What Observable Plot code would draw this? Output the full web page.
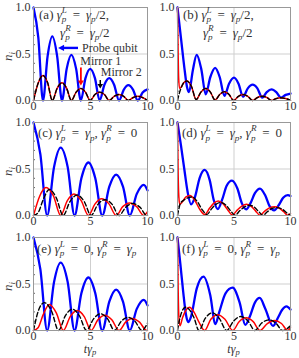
<!DOCTYPE html>
<html><head><meta charset="utf-8">
<script src="https://cdn.jsdelivr.net/npm/d3@7"></script>
<script src="https://cdn.jsdelivr.net/npm/@observablehq/plot@0.6"></script>
<style>
html,body{margin:0;padding:0;background:#fff;}
#wrap{position:relative;width:299px;height:358px;overflow:hidden;background:#fff;}
#wrap svg{position:absolute;}
</style></head><body><div id="wrap"></div>
<script>
// ---- data: [t*gamma_p, n_i] ----
const xTicks = [0, 5, 10];
const yTicks = [0, 0.5, 1];
const yMinor = [0.1, 0.2, 0.3, 0.4, 0.6, 0.7, 0.8, 0.9];

const aBlue = [[0,1],[0.42,0.68],[0.83,0],[1.24,0.48],[1.65,0.69],[2.07,0.48],[2.5,0],[2.91,0.34],[3.32,0.49],[3.74,0.34],[4.15,0],[4.56,0.24],[4.97,0.34],[5.39,0.24],[5.8,0],[6.22,0.17],[6.65,0.24],[7.07,0.17],[7.5,0],[7.91,0.115],[8.32,0.165],[8.74,0.115],[9.15,0],[9.57,0.085],[10,0.12]];
const aRed = [[0,0],[0.42,0.19],[0.83,0.27],[1.24,0.19],[1.65,0],[2.07,0.13],[2.5,0.19],[2.91,0.13],[3.32,0],[3.74,0.09],[4.15,0.13],[4.56,0.09],[4.97,0],[5.39,0.065],[5.8,0.09],[6.22,0.065],[6.65,0],[7.07,0.045],[7.5,0.065],[7.91,0.045],[8.32,0],[8.74,0.032],[9.15,0.045],[9.57,0.032],[10,0]];
const aBlack = [[0,0],[0.42,0.19],[0.83,0.27],[1.24,0.19],[1.65,0],[2.07,0.13],[2.5,0.19],[2.91,0.13],[3.32,0],[3.74,0.09],[4.15,0.13],[4.56,0.09],[4.97,0],[5.39,0.065],[5.8,0.09],[6.22,0.065],[6.65,0],[7.07,0.045],[7.5,0.065],[7.91,0.045],[8.32,0],[8.74,0.032],[9.15,0.045],[9.57,0.032],[10,0]];

const bBlue = [[0,1],[0.3,0.68],[0.6,0.36],[0.85,0.14],[1.02,0.09],[1.35,0.32],[1.7,0.49],[2.1,0.34],[2.5,0.065],[2.9,0.25],[3.33,0.35],[3.74,0.25],[4.15,0.05],[4.56,0.18],[5.0,0.245],[5.4,0.18],[5.8,0.04],[6.22,0.13],[6.65,0.17],[7.07,0.13],[7.5,0.03],[7.9,0.09],[8.32,0.12],[8.74,0.09],[9.15,0.03],[9.57,0.06],[10,0.075]];
const bRed = [[0,1],[0.05,0.55],[0.1,0.25],[0.18,0.13],[0.3,0.14],[0.55,0.19],[0.83,0.21],[1.24,0.15],[1.65,0.01],[2.07,0.09],[2.5,0.13],[2.91,0.09],[3.32,0.005],[3.74,0.065],[4.15,0.095],[4.56,0.065],[4.97,0],[5.39,0.045],[5.8,0.065],[6.22,0.045],[6.65,0],[7.07,0.032],[7.5,0.045],[7.91,0.032],[8.32,0],[8.74,0.021],[9.15,0.03],[9.57,0.021],[10,0.002]];
const bBlack = [[0,0],[0.12,0.06],[0.3,0.13],[0.55,0.19],[0.83,0.21],[1.24,0.15],[1.65,0.01],[2.07,0.09],[2.5,0.13],[2.91,0.09],[3.32,0.005],[3.74,0.065],[4.15,0.095],[4.56,0.065],[4.97,0],[5.39,0.045],[5.8,0.065],[6.22,0.045],[6.65,0],[7.07,0.032],[7.5,0.045],[7.91,0.032],[8.32,0],[8.74,0.021],[9.15,0.03],[9.57,0.021],[10,0.002]];

const cBlue = [[0,1],[0.6,0.66],[1.2,0],[1.8,0.52],[2.38,0.73],[3.0,0.52],[3.6,0],[4.2,0.4],[4.82,0.57],[5.42,0.4],[6.03,0],[6.65,0.31],[7.25,0.44],[7.85,0.31],[8.45,0],[9.05,0.23],[9.68,0.33],[10,0.27]];
const cRed = [[0,0],[0.55,0.21],[1.1,0.3],[1.75,0.21],[2.38,0],[2.97,0.16],[3.55,0.23],[4.18,0.16],[4.82,0],[5.4,0.125],[5.98,0.18],[6.62,0.125],[7.25,0],[7.83,0.095],[8.42,0.135],[9.05,0.095],[9.68,0],[10,0.04]];
const cBlack = [[0,0],[0.4,0.03],[0.85,0.17],[1.38,0.28],[2.0,0.19],[2.6,0],[3.2,0.15],[3.82,0.22],[4.45,0.15],[5.05,0],[5.65,0.12],[6.28,0.17],[6.9,0.12],[7.5,0],[8.1,0.09],[8.7,0.13],[9.33,0.09],[9.95,0],[10,0.002]];

const dBlue = [[0,1],[0.3,0.76],[0.6,0.5],[0.9,0.25],[1.2,0.12],[1.55,0.2],[1.95,0.4],[2.4,0.49],[2.85,0.38],[3.2,0.17],[3.57,0.07],[3.95,0.17],[4.35,0.32],[4.82,0.375],[5.3,0.29],[5.7,0.13],[6.08,0.065],[6.45,0.13],[6.85,0.24],[7.3,0.29],[7.75,0.22],[8.15,0.1],[8.55,0.055],[8.95,0.11],[9.35,0.19],[9.76,0.22],[10,0.21]];
const dRed = [[0,1],[0.05,0.5],[0.12,0.2],[0.2,0.12],[0.45,0.15],[0.75,0.2],[1.1,0.215],[1.5,0.17],[1.95,0.07],[2.4,0.01],[2.85,0.08],[3.2,0.13],[3.6,0.155],[4.0,0.13],[4.45,0.06],[4.85,0.005],[5.3,0.06],[5.7,0.1],[6.1,0.12],[6.5,0.1],[6.9,0.05],[7.3,0.003],[7.7,0.045],[8.1,0.08],[8.6,0.095],[9.0,0.08],[9.4,0.04],[9.75,0.002],[10,0.02]];
const dBlack = [[0,0],[0.1,0.06],[0.25,0.13],[0.5,0.16],[0.9,0.19],[1.3,0.2],[1.75,0.15],[2.2,0.06],[2.6,0.01],[3.0,0.07],[3.4,0.12],[3.85,0.14],[4.3,0.11],[4.7,0.05],[5.1,0.003],[5.5,0.05],[5.9,0.09],[6.35,0.11],[6.8,0.09],[7.2,0.04],[7.55,0.002],[7.95,0.04],[8.35,0.075],[8.8,0.085],[9.25,0.07],[9.65,0.03],[10,0.002]];

const eBlue = [[0,1],[0.6,0.66],[1.2,0],[1.8,0.52],[2.38,0.73],[3.0,0.52],[3.6,0],[4.2,0.4],[4.82,0.57],[5.42,0.4],[6.03,0],[6.65,0.31],[7.25,0.44],[7.85,0.31],[8.45,0],[9.05,0.23],[9.68,0.33],[10,0.27]];
const eRed = [[0,0],[0.4,0.03],[0.85,0.17],[1.38,0.28],[2.0,0.19],[2.62,0],[3.22,0.15],[3.83,0.215],[4.45,0.15],[5.05,0],[5.65,0.115],[6.25,0.165],[6.87,0.115],[7.5,0],[8.08,0.09],[8.65,0.13],[9.3,0.09],[9.92,0],[10,0.002]];
const eBlack = [[0,0],[0.45,0.22],[0.95,0.3],[1.58,0.21],[2.2,0],[2.8,0.16],[3.4,0.23],[4.02,0.16],[4.65,0],[5.27,0.125],[5.88,0.18],[6.5,0.125],[7.1,0],[7.7,0.1],[8.3,0.14],[8.9,0.1],[9.5,0],[10,0.08]];

const fBlue = [[0,1],[0.25,0.72],[0.5,0.42],[0.75,0.17],[0.95,0.09],[1.2,0.15],[1.7,0.45],[2.3,0.58],[2.9,0.38],[3.35,0.07],[3.7,0.2],[4.25,0.4],[4.88,0.46],[5.5,0.3],[6.0,0.06],[6.4,0.15],[6.85,0.3],[7.28,0.35],[7.75,0.24],[8.45,0.05],[8.9,0.14],[9.25,0.22],[9.65,0.26],[10,0.225]];
const fRed = [[0,1],[0.05,0.5],[0.12,0.15],[0.22,0.05],[0.45,0.14],[0.75,0.22],[1.06,0.25],[1.45,0.2],[1.9,0.09],[2.4,0],[2.95,0.12],[3.57,0.17],[4.2,0.12],[4.9,0],[5.45,0.095],[6.08,0.137],[6.7,0.095],[7.3,0],[7.95,0.075],[8.58,0.107],[9.2,0.075],[9.76,0],[10,0.03]];
const fBlack = [[0,0],[0.15,0.1],[0.35,0.19],[0.7,0.25],[1.0,0.23],[1.45,0.14],[1.9,0],[2.45,0.13],[3.1,0.19],[3.7,0.13],[4.35,0],[4.95,0.1],[5.6,0.15],[6.25,0.1],[6.85,0],[7.45,0.08],[8.1,0.115],[8.7,0.08],[9.3,0],[10,0.05]];

// ---- styles ----
const FONT = "'Liberation Serif', 'DejaVu Serif', serif";
const TEXT = "#333";
const BLUE = "#0000ff", RED = "#ff0000", BLACK = "#000";
const GRID = "#cfcfcf", FRAME = "#999";
const EQ = " \u2009=\u2009 ";

const G = {i:"γ"};
const panels = [
  {blue:aBlue, red:aRed, black:aBlack, col:0, row:0,
   lines:[{at:[0.53,0.875], parts:[{t:"(a) "},G,{ss:["p","L"]},{t:EQ},G,{sub:"p"},{t:"/2,"}]},
          {at:[2.37,0.68], parts:[G,{ss:["p","R"]},{t:EQ},G,{sub:"p"},{t:"/2"}]}],
   notes:true},
  {blue:bBlue, red:bRed, black:bBlack, col:1, row:0,
   lines:[{at:[0.53,0.875], parts:[{t:"(b) "},G,{ss:["p","L"]},{t:EQ},G,{sub:"p"},{t:"/2,"}]},
          {at:[2.3,0.68], parts:[G,{ss:["p","R"]},{t:EQ},G,{sub:"p"},{t:"/2"}]}]},
  {blue:cBlue, red:cRed, black:cBlack, col:0, row:1,
   lines:[{at:[0.44,0.84], parts:[{t:"(c) "},G,{ss:["p","L"]},{t:EQ},G,{sub:"p"},{t:", "},G,{ss:["p","R"]},{t:EQ + "0"}]}]},
  {blue:dBlue, red:dRed, black:dBlack, col:1, row:1,
   lines:[{at:[0.44,0.84], parts:[{t:"(d) "},G,{ss:["p","L"]},{t:EQ},G,{sub:"p"},{t:", "},G,{ss:["p","R"]},{t:EQ + "0"}]}]},
  {blue:eBlue, red:eRed, black:eBlack, col:0, row:2,
   lines:[{at:[0.35,0.83], parts:[{t:"(e) "},G,{ss:["p","L"]},{t:EQ + "0, "},G,{ss:["p","R"]},{t:EQ},G,{sub:"p"}]}]},
  {blue:fBlue, red:fRed, black:fBlack, col:1, row:2,
   lines:[{at:[0.44,0.83], parts:[{t:"(f) "},G,{ss:["p","L"]},{t:EQ + "0, "},G,{ss:["p","R"]},{t:EQ},G,{sub:"p"}]}]}
];

function addMath(text, parts, size) {
  const small = size * 0.7, subD = size * 0.28, supD = -size * 0.42;
  let shift = 0;
  for (const p of parts) {
    if (p.ss) {
      text.append("tspan").attr("font-size", small).attr("font-style", "italic").attr("dy", subD - shift).text(p.ss[0]);
      text.append("tspan").attr("font-size", small).attr("font-style", "italic").attr("dx", -small * 0.5).attr("dy", supD - subD).text(p.ss[1]);
      shift = supD;
    } else if (p.sub) {
      text.append("tspan").attr("font-size", small).attr("font-style", "italic").attr("dy", subD - shift).text(p.sub);
      shift = subD;
    } else {
      text.append("tspan").attr("font-size", size).attr("font-style", p.i ? "italic" : "normal").attr("dy", -shift).text(p.i || p.t);
      shift = 0;
    }
  }
}

function arrow(svg, x1, y1, x2, y2, color, w, hl, hw) {
  const dx = x2 - x1, dy = y2 - y1, L = Math.hypot(dx, dy), ux = dx / L, uy = dy / L;
  const bx = x2 - ux * hl, by = y2 - uy * hl;
  svg.append("line").attr("x1", x1).attr("y1", y1).attr("x2", bx + ux).attr("y2", by + uy)
    .attr("stroke", color).attr("stroke-width", w);
  svg.append("path").attr("d", `M${x2},${y2}L${bx - uy * hw},${by + ux * hw}L${bx + uy * hw},${by - ux * hw}Z`).attr("fill", color);
}

const wrap = document.getElementById("wrap");
for (const p of panels) {
  const W = p.col ? 149 : 150, H = p.row === 2 ? 128 : 115;
  const mL = p.col ? 27 : 33, mR = p.col ? 9 : 3, mT = 7, mB = p.row === 2 ? 28 : 15;
  const line = (data, stroke, sw, dash) => Plot.line(data, {x: d => d[0], y: d => d[1], stroke, strokeWidth: sw, strokeDasharray: dash, curve: "monotone-x"});
  const plot = Plot.plot({
    width: W, height: H, marginLeft: mL, marginRight: mR, marginTop: mT, marginBottom: mB,
    style: {fontFamily: FONT, fontSize: "12px", color: TEXT, background: "transparent", overflow: "visible"},
    x: {domain: [0, 10]}, y: {domain: [0, 1]},
    marks: [
      Plot.gridX([5], {stroke: GRID, strokeOpacity: 1}),
      Plot.gridY([0.5], {stroke: GRID, strokeOpacity: 1}),
      Plot.axisX({ticks: xTicks, tickSize: 0, tickPadding: 1, tickFormat: d => String(d), label: null}),
      Plot.axisY({ticks: yTicks, tickSize: 0, tickPadding: 3, tickFormat: d3.format(".1f"), label: null}),
      Plot.axisY({ticks: yMinor, tickSize: -2, tickFormat: () => "", label: null, stroke: "#666"}),
      line(p.blue, BLUE, 2.3),
      line(p.red, RED, 1.5),
      line(p.black, BLACK, 1.4, "4.5,2.5"),
      Plot.frame({stroke: FRAME})
    ]
  });
  plot.style.left = (p.col ? 150 : 0) + "px";
  plot.style.top = [0, 115, 230][p.row] + "px";
  wrap.appendChild(plot);
  const sx = plot.scale("x"), sy = plot.scale("y");
  const svg = d3.select(plot);
  const g = svg.append("g").attr("font-family", FONT).attr("fill", TEXT).attr("text-anchor", "start");
  for (const l of p.lines) {
    const t = g.append("text").attr("x", sx.apply(l.at[0])).attr("y", sy.apply(l.at[1]));
    addMath(t, l.parts, 13);
  }
  if (p.col === 0) {
    const cy = (mT + H - mB) / 2 + 3;
    const t = g.append("text").attr("transform", `translate(12,${cy}) rotate(-90)`).attr("text-anchor", "middle");
    t.append("tspan").attr("font-style", "italic").attr("font-size", 13).text("n");
    t.append("tspan").attr("font-style", "italic").attr("font-size", 9).attr("dy", 3).text("i");
  }
  if (p.row === 2) {
    const cx = (mL + W - mR) / 2;
    const t = g.append("text").attr("x", cx).attr("y", H - 5.5).attr("text-anchor", "middle");
    t.append("tspan").attr("font-style", "italic").attr("font-size", 12).text("tγ");
    t.append("tspan").attr("font-style", "italic").attr("font-size", 8.5).attr("dy", 2.5).text("p");
  }
  if (p.notes) {
    g.append("text").attr("x", sx.apply(4.3)).attr("y", sy.apply(0.515)).attr("font-size", 12).text("Probe qubit");
    g.append("text").attr("x", sx.apply(4.15)).attr("y", sy.apply(0.38)).attr("font-size", 12).text("Mirror 1");
    g.append("text").attr("x", sx.apply(5.95)).attr("y", sy.apply(0.255)).attr("font-size", 12).text("Mirror 2");
    arrow(svg, sx.apply(3.95), sy.apply(0.56), sx.apply(2.2), sy.apply(0.56), BLUE, 2.4, 6, 3.2);
    arrow(svg, sx.apply(4.2), sy.apply(0.35), sx.apply(4.2), sy.apply(0.155), RED, 1.8, 5, 3);
    arrow(svg, sx.apply(5.9), sy.apply(0.215), sx.apply(5.9), sy.apply(0.125), BLACK, 1.5, 4.5, 2.8);
  }
}
</script></body></html>
